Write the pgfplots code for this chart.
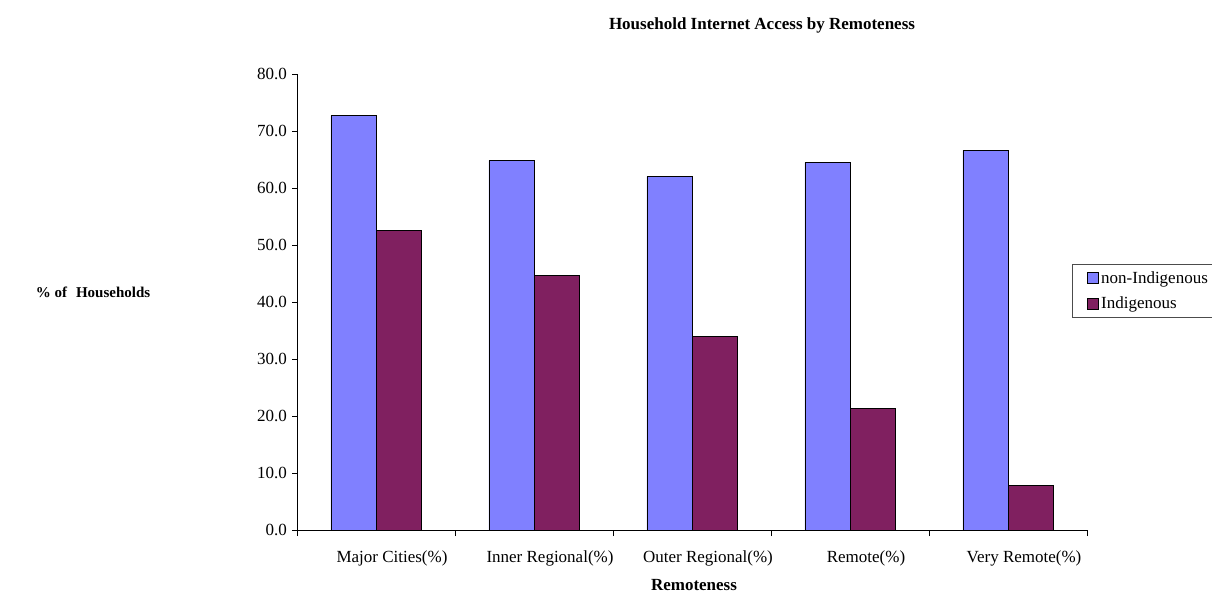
\documentclass[border=0pt]{standalone}
\usepackage{pgfplots}
\pgfplotsset{compat=1.18}
\usepackage{fontspec}
\setmainfont{Liberation Serif}
\definecolor{nonind}{RGB}{128,128,255}
\definecolor{ind}{RGB}{128,32,96}
\newcommand\f{\fontsize{17}{20}\selectfont}
\pgfplotstableread{
x non ind
0 72.7 52.6
1 64.8 44.6
2 62.0 34.0
3 64.5 21.3
4 66.6 7.8
}\datatable
\begin{document}
\begin{tikzpicture}[x=1pt,y=1pt]
\useasboundingbox (0,0) rectangle (1212,592);
\begin{axis}[
  at={(297pt,62pt)}, anchor=south west,
  scale only axis, width=790pt, height=456pt,
  xmin=-0.5, xmax=4.5, ymin=0, ymax=80,
  axis lines=left, axis line style={-, black, line width=0.8pt},
  ytick={0,10,...,80},
  yticklabel style={font=\f,/pgf/number format/.cd,fixed,fixed zerofill,precision=1},
  yticklabel shift=1.5pt,
  /pgf/number format/assume math mode=true,
  xtick={0,1,2,3,4},
  xticklabels={Major Cities(\%),Inner Regional(\%),Outer Regional(\%),Remote(\%),Very Remote(\%)},
  xticklabel style={font=\f, xshift=16pt},
  xticklabel shift=12pt,
  major x tick style={draw=none},
  minor xtick={-0.5,0.5,1.5,2.5,3.5,4.5},
  tick align=outside,
  major tick length=5pt, minor tick length=6pt,
  tick style={black, line width=0.8pt},
  ybar, bar width=0.285,
  legend style={at={(0.981,0.583)}, anchor=north west, draw=black!70, line width=0.8pt,
     font=\f, inner xsep=15pt, inner ysep=5pt, row sep=8pt},
  legend cell align=left,
  legend image code/.code={\draw[#1, line width=0.8pt] (0pt,-5.5pt) rectangle (11pt,5.5pt);},
]
\addplot[fill=nonind, draw=black, line width=0.8pt, bar shift=-0.1425] table[x=x,y=non]{\datatable};
\addplot[fill=ind, draw=black, line width=0.8pt, bar shift=0.1425] table[x=x,y=ind]{\datatable};
\legend{non-Indigenous,Indigenous}
\end{axis}
\node[font=\f\bfseries] at (762,567) {Household Internet Access by Remoteness};
\node[font=\fontsize{15}{18}\selectfont\bfseries] at (93,300) {\% of\hspace{0.6em}Households};
\node[font=\f\bfseries] at (694,7) {Remoteness};
\end{tikzpicture}
\end{document}
